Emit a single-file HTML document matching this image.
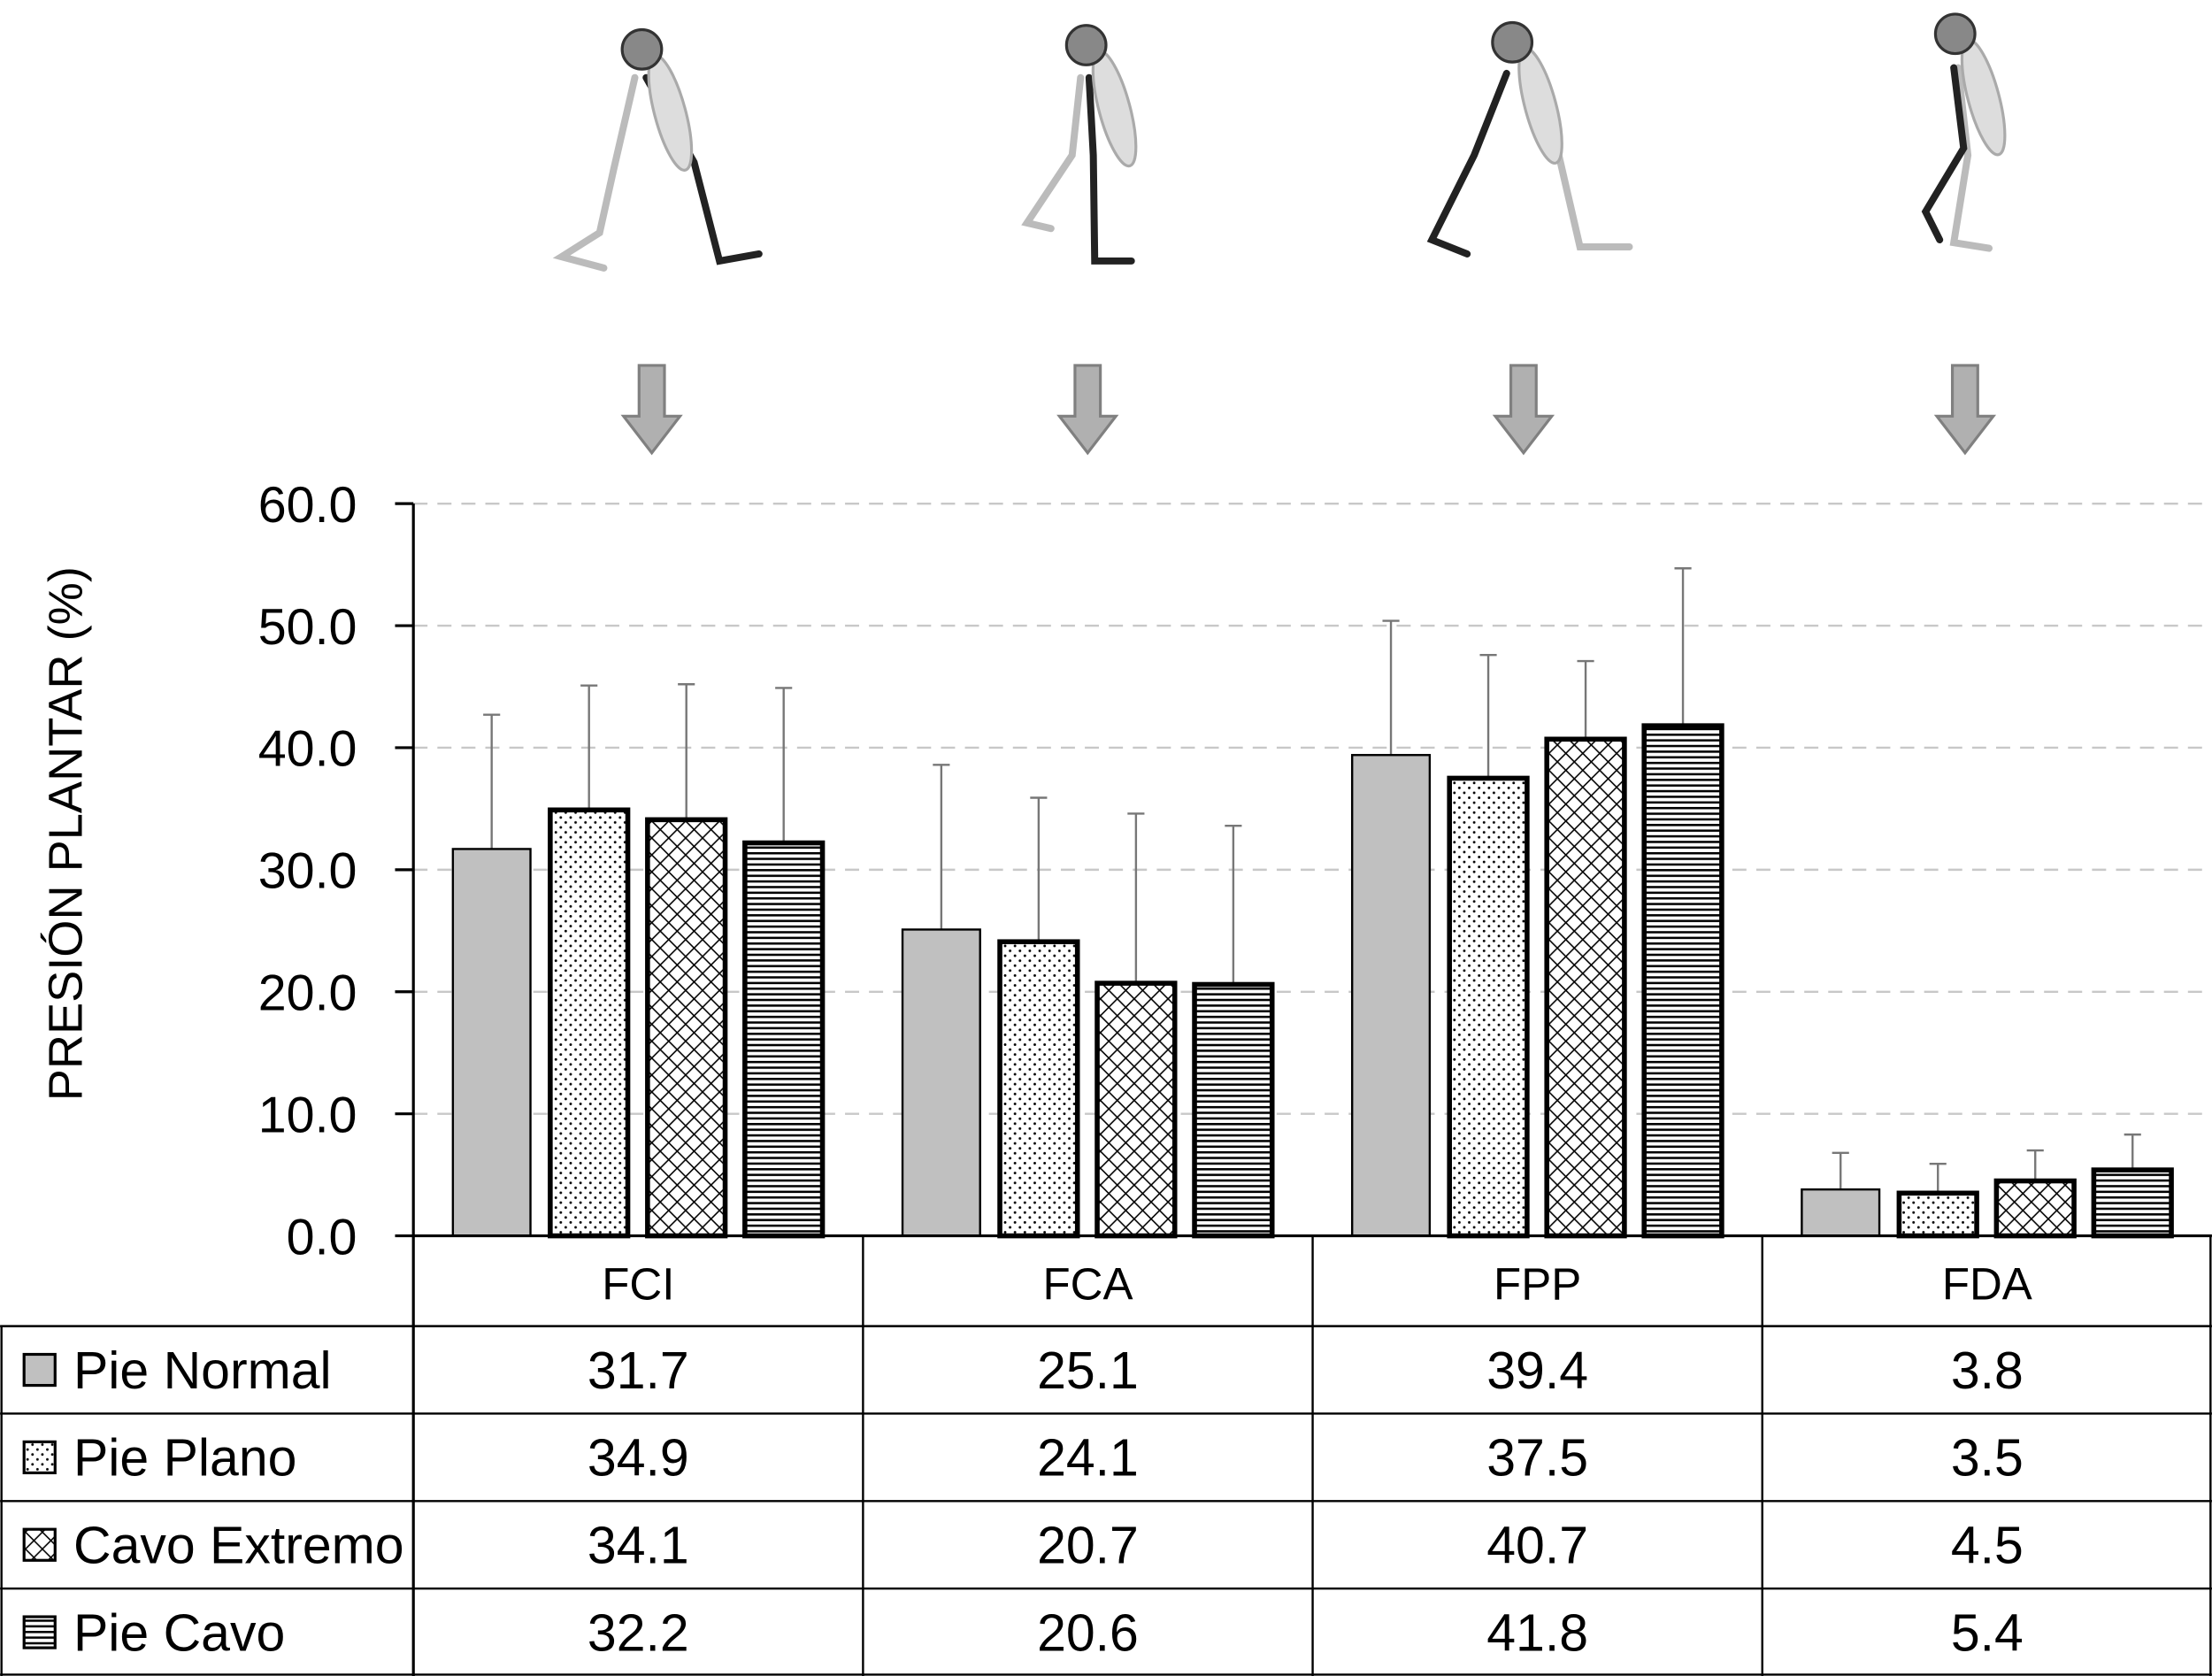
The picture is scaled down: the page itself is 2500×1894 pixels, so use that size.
<!DOCTYPE html>
<html><head><meta charset="utf-8"><style>html,body{margin:0;padding:0;background:#fff}svg{display:block}</style></head>
<body>
<svg id="chart" width="2500" height="1894" viewBox="0 0 1568 1188" xmlns="http://www.w3.org/2000/svg" font-family="Liberation Sans, sans-serif">
<defs>
<pattern id="pDots" width="7" height="7" patternUnits="userSpaceOnUse"><rect width="7" height="7" fill="#fff"/><circle cx="2" cy="2" r="0.9" fill="#000"/><circle cx="5.5" cy="5.5" r="0.9" fill="#000"/></pattern>
<pattern id="pCross" width="12" height="12" patternUnits="userSpaceOnUse"><rect width="12" height="12" fill="#fff"/><path d="M0 0L12 12M12 0L0 12" stroke="#000" stroke-width="1"/></pattern>
<pattern id="pHoriz" width="6" height="4" patternUnits="userSpaceOnUse"><rect width="6" height="4" fill="#fff"/><rect y="0" width="6" height="1.6" fill="#000"/></pattern>
</defs>
<g id="figures" fill="none" stroke-linecap="round"></g>
<g id="grid"></g>
<g id="bars"></g>
<g id="axes"></g>
<g id="table"></g>
<text transform="translate(58,591) rotate(-90)" text-anchor="middle" font-size="34" fill="#000">PRESIÓN PLANTAR (%)</text>
</svg>
<script>
const categories = ["FCI","FCA","FPP","FDA"];
const seriesNames = ["Pie Normal","Pie Plano","Cavo Extremo","Pie Cavo"];
const pieNormal = [31.7,25.1,39.4,3.8];
const piePlano = [34.9,24.1,37.5,3.5];
const cavoExtremo = [34.1,20.7,40.7,4.5];
const pieCavo = [32.2,20.6,41.8,5.4];
const sdNormal = [11.0,13.5,11.0,3.0];
const sdPlano = [10.2,11.8,10.1,2.4];
const sdCavoExt = [11.1,13.9,6.4,2.5];
const sdCavo = [12.7,13.0,12.9,2.9];
const tickLabels = ["0.0","10.0","20.0","30.0","40.0","50.0","60.0"];
const tickValues = [0,10,20,30,40,50,60];

const NS="http://www.w3.org/2000/svg";
function mk(tag,attrs,parent,text){const e=document.createElementNS(NS,tag);for(const k in attrs)e.setAttribute(k,attrs[k]);if(text!==undefined)e.textContent=text;parent.appendChild(e);return e;}
const X0=293,X1=1568,Y0=876,Ymax=60,Ytop=357;
const y=v=>Y0-(v/Ymax)*(Y0-Ytop);
const catW=(X1-X0)/categories.length;
const catX=i=>X0+i*catW;
const barW=55,barGap=14,groupOff=28;
const barX=(c,s)=>catX(c)+groupOff+s*(barW+barGap);
const series=[pieNormal,piePlano,cavoExtremo,pieCavo];
const sds=[sdNormal,sdPlano,sdCavoExt,sdCavo];
const fills=["#c0c0c0","url(#pDots)","url(#pCross)","url(#pHoriz)"];
const strokeW=[1.5,3.5,3.5,3.5];

const grid=document.getElementById('grid');
tickValues.forEach((v,i)=>{ if(v>0){const l=mk('line',{x1:X0,x2:X1,y1:y(v),y2:y(v),stroke:'#c8c8c8','stroke-width':1.5,'stroke-dasharray':'10,7'},grid);

}
const t=mk('text',{x:253,y:y(v)+13,'text-anchor':'end','font-size':36},grid,tickLabels[i]);


const tk=mk('line',{x1:X0-13,x2:X0,y1:y(v),y2:y(v),stroke:'#000','stroke-width':2},grid);


});

const bars=document.getElementById('bars');
categories.forEach((c,ci)=>{series.forEach((s,si)=>{
 const bx=barX(ci,si),v=s[ci],sd=sds[si][ci];
 const el=mk('line',{x1:bx+barW/2,x2:bx+barW/2,y1:y(v),y2:y(v+sd),stroke:'#777','stroke-width':1.5},bars);
 
 
 const cap=mk('line',{x1:bx+barW/2-6,x2:bx+barW/2+6,y1:y(v+sd),y2:y(v+sd),stroke:'#777','stroke-width':1.5},bars);
 
 
 const r=mk('rect',{x:bx,y:y(v),width:barW,height:Y0-y(v),fill:fills[si],stroke:'#000','stroke-width':strokeW[si]},bars);
 
 
});});

const axes=document.getElementById('axes');
mk('line',{x1:X0,x2:X0,y1:Ytop,y2:1188,stroke:'#000','stroke-width':2},axes);
mk('line',{x1:X0,x2:X1,y1:Y0,y2:Y0,stroke:'#000','stroke-width':2},axes);

const tb=document.getElementById('table');
const rowH=62,rowY0=940;
mk('line',{x1:0,x2:X1,y1:rowY0,y2:rowY0,stroke:'#000','stroke-width':1.5},tb);
for(let r=1;r<=4;r++)mk('line',{x1:0,x2:X1,y1:rowY0+r*rowH-(r==4?1:0),y2:rowY0+r*rowH-(r==4?1:0),stroke:'#000','stroke-width':1.5},tb);
mk('line',{x1:1,x2:1,y1:rowY0,y2:1188,stroke:'#000','stroke-width':1.5},tb);
for(let i=1;i<=4;i++)mk('line',{x1:catX(i)-(i==4?1:0),x2:catX(i)-(i==4?1:0),y1:Y0,y2:1188,stroke:'#000','stroke-width':1.5},tb);
categories.forEach((c,ci)=>{const t=mk('text',{x:catX(ci)+catW/2,y:921,'text-anchor':'middle','font-size':32},tb,c);

});
series.forEach((s,si)=>{
 const ry=rowY0+si*rowH;
 const sw=mk('rect',{x:17,y:ry+20,width:22,height:22,fill:fills[si],stroke:'#000','stroke-width':2},tb);
 
 
 const lt=mk('text',{x:52,y:ry+44,'font-size':37},tb,seriesNames[si]);
 
 
 s.forEach((v,ci)=>{const t=mk('text',{x:catX(ci)+catW/2,y:ry+44,'text-anchor':'middle','font-size':37},tb,v.toFixed(1));
 
 });
});

const fg=document.getElementById('figures');
const arrowX=[462,771,1080,1393];
arrowX.forEach(ax=>{const a=mk('path',{d:`M${ax-9} 259 H${ax+9} V295 H${ax+20} L${ax} 321 L${ax-20} 295 H${ax-9} Z`,fill:'#b0b0b0',stroke:'#808080','stroke-width':2},fg);

});
const figs=[
 {hx:455,hy:35,light:"M450 55 L435 120 L425 165 L398 182 L428 190",dark:"M458 55 L492 115 L510 185 L538 180"},
 {hx:770,hy:32,light:"M766 55 L760 110 L728 158 L745 162",dark:"M772 55 L775 110 L776 185 L802 185"},
 {hx:1072,hy:30,light:"M1080 52 L1105 110 L1120 175 L1155 175",dark:"M1068 52 L1045 110 L1015 170 L1040 180"},
 {hx:1386,hy:24,light:"M1388 48 L1395 110 L1385 172 L1410 176",dark:"M1385 48 L1392 105 L1365 150 L1375 170"}
];
figs.forEach(f=>{
 const g=mk('g',{},fg);
 
 
 mk('path',{d:f.light,stroke:'#bbb','stroke-width':5},g);
 mk('path',{d:f.dark,stroke:'#222','stroke-width':5},g);
 mk('ellipse',{cx:f.hx+20,cy:f.hy+45,rx:11,ry:42,stroke:'#aaa','stroke-width':2,fill:'#ddd',transform:`rotate(-15 ${f.hx+20} ${f.hy+45})`},g);
 mk('circle',{cx:f.hx,cy:f.hy,r:14,fill:'#888',stroke:'#333','stroke-width':2},g);
});
</script>
</body></html>
